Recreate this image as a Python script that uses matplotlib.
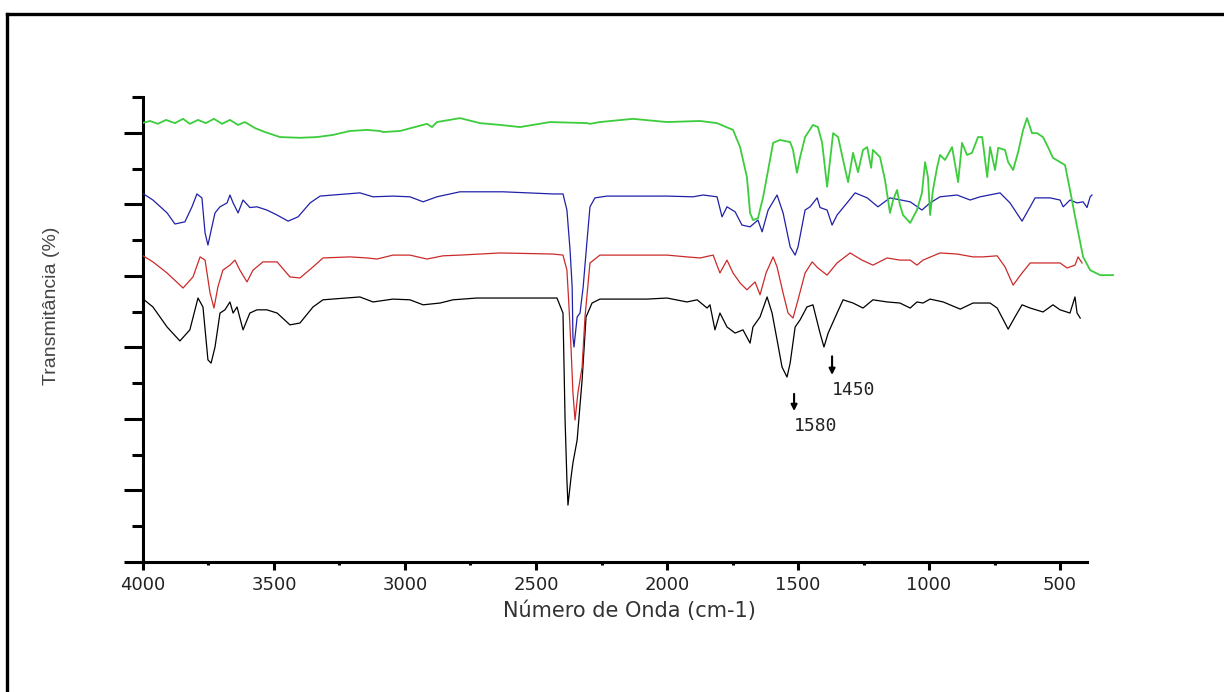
import numpy as np
import matplotlib
matplotlib.use('Agg')
import matplotlib.pyplot as plt
from matplotlib.lines import Line2D
from matplotlib.ticker import MultipleLocator

# FTIR spectra: wavenumber (cm-1) and transmittance (arbitrary %, stacked)
wn_green = [4004, 3973, 3943, 3912, 3878, 3847, 3821, 3790, 3760, 3729, 3698, 3668, 3637, 3611,
            3572, 3534, 3477, 3401, 3336, 3275, 3210, 3145, 3095, 3084, 3019, 2916, 2897, 2878,
            2790, 2714, 2637, 2561, 2446, 2305, 2294, 2256, 2130, 2000, 1874, 1809, 1748, 1721,
            1695, 1683, 1672, 1653, 1633, 1607, 1595, 1569, 1530, 1519, 1504, 1492, 1473, 1443,
            1424, 1408, 1389, 1366, 1347, 1328, 1309, 1290, 1271, 1252, 1236, 1221, 1214, 1187,
            1168, 1149, 1137, 1122, 1111, 1099, 1072, 1046, 1027, 1015, 1004, 996, 985, 969,
            958, 939, 912, 889, 874, 855, 836, 813, 797, 778, 767, 748, 736, 710, 698, 679,
            660, 641, 626, 607, 588, 565, 546, 527, 500, 481, 462, 435, 412, 385, 347, 298]
t_green = [122.7, 123.3, 122.5, 123.6, 122.7, 123.9, 122.5, 123.6, 122.7, 123.9, 122.5, 123.6, 122.2, 123.0,
           121.3, 120.2, 118.8, 118.6, 118.8, 119.4, 120.5, 120.8, 120.5, 120.2, 120.5, 122.5, 121.6, 123.0,
           124.1, 122.7, 122.2, 121.6, 123.0, 122.7, 122.5, 123.0, 123.9, 123.0, 123.3, 122.7, 120.8, 116.0,
           107.6, 97.6, 95.6, 96.1, 102.1, 112.4, 117.2, 118.0, 117.4, 115.2, 108.8, 113.2, 118.8, 122.2,
           121.6, 117.2, 104.9, 119.9, 118.8, 112.4, 106.2, 114.4, 109.0, 115.2, 116.0, 110.2, 115.2, 113.2,
           106.8, 97.6, 101.2, 104.0, 99.8, 97.0, 94.8, 98.4, 103.2, 111.8, 107.6, 97.0, 104.0, 110.4,
           113.8, 112.4, 116.0, 106.2, 117.2, 113.8, 114.4, 118.8, 118.8, 107.6, 116.0, 109.6, 115.8, 115.2, 111.8, 109.6,
           114.6, 120.8, 124.1, 119.9, 119.9, 118.8, 116.0, 113.0, 111.8, 111.0, 104.0, 93.7, 85.3, 81.6, 80.2, 80.2]

wn_blue = [4004, 3962, 3908, 3878, 3840, 3813, 3794, 3775, 3763, 3752, 3737, 3725, 3706, 3679,
           3668, 3656, 3637, 3618, 3592, 3565, 3527, 3488, 3446, 3408, 3362, 3324, 3275, 3172,
           3122, 3046, 2981, 2931, 2878, 2790, 2626, 2435, 2397, 2382, 2370, 2362, 2359, 2355,
           2343, 2332, 2320, 2305, 2294, 2275, 2229, 2000, 1901, 1862, 1809, 1790, 1771, 1740,
           1714, 1683, 1653, 1637, 1614, 1580, 1557, 1530, 1511, 1500, 1473, 1454, 1427, 1416,
           1389, 1370, 1351, 1313, 1282, 1236, 1195, 1149, 1072, 1027, 996, 958, 893, 843,
           805, 729, 691, 645, 614, 595, 538, 500, 488, 462, 435, 412, 397, 385, 378]
t_blue = [103.2, 101.2, 97.6, 94.5, 95.1, 99.3, 102.9, 101.8, 92.0, 88.6, 93.7, 97.6, 99.3, 100.4,
          102.6, 100.4, 97.6, 101.2, 99.1, 99.3, 98.4, 97.0, 95.3, 96.5, 100.4, 102.3, 102.6, 103.2,
          102.1, 102.3, 102.1, 100.7, 102.1, 103.5, 103.5, 102.9, 102.9, 98.4, 87.2, 76.9, 62.9, 60.1,
          68.5, 69.6, 76.9, 90.0, 99.3, 101.8, 102.3, 102.3, 102.1, 102.6, 102.1, 96.5, 99.3, 97.9,
          94.2, 93.7, 95.6, 92.3, 98.4, 102.6, 97.6, 88.1, 85.8, 88.1, 98.4, 99.3, 101.8, 99.1,
          98.4, 94.2, 97.0, 100.4, 103.2, 101.8, 99.3, 101.8, 100.7, 98.4, 100.4, 102.1, 102.6, 101.2,
          102.1, 103.2, 100.4, 95.3, 99.3, 101.8, 101.8, 101.2, 99.3, 101.2, 100.4, 100.7, 99.1, 102.1, 102.6]

wn_red = [4004, 3962, 3908, 3847, 3809, 3782, 3763, 3744, 3729, 3714, 3695, 3668, 3649, 3630,
          3603, 3580, 3542, 3488, 3439, 3401, 3351, 3313, 3210, 3145, 3107, 3046, 2981, 2916,
          2855, 2790, 2637, 2435, 2397, 2382, 2374, 2366, 2359, 2351, 2340, 2324, 2313, 2294,
          2256, 2000, 1924, 1874, 1824, 1798, 1771, 1748, 1721, 1695, 1664, 1645, 1622, 1595,
          1580, 1557, 1538, 1519, 1500, 1473, 1446, 1424, 1389, 1351, 1301, 1256, 1214, 1160,
          1111, 1072, 1046, 1023, 958, 893, 832, 794, 740, 710, 679, 645, 614, 549, 500, 473,
          443, 431, 416]
t_red = [85.8, 83.9, 80.8, 76.6, 79.7, 85.3, 84.4, 75.2, 71.0, 76.9, 81.6, 83.0, 84.4, 81.6,
         78.3, 81.6, 83.9, 83.9, 79.7, 79.4, 82.5, 85.0, 85.3, 85.0, 84.7, 85.8, 85.8, 84.7,
         85.6, 85.8, 86.4, 86.1, 85.8, 81.6, 71.3, 59.3, 47.3, 39.7, 47.3, 54.5, 68.5, 83.6,
         85.8, 85.8, 85.3, 85.0, 85.8, 80.8, 84.4, 80.8, 78.0, 76.1, 78.3, 74.7, 80.8, 85.3,
         82.5, 75.2, 69.6, 68.2, 73.3, 80.8, 83.9, 82.2, 80.2, 83.6, 86.4, 84.4, 83.0, 85.0,
         84.4, 84.4, 83.0, 84.4, 86.4, 86.1, 85.3, 85.3, 85.6, 82.5, 77.4, 80.8, 83.6, 83.6, 83.6, 82.2,
         83.0, 85.3, 83.6]

wn_black = [4004, 3962, 3908, 3859, 3821, 3790, 3771, 3752, 3740, 3725, 3706, 3687, 3668, 3656,
            3641, 3618, 3592, 3565, 3527, 3488, 3439, 3401, 3351, 3313, 3172, 3122, 3046, 2981,
            2931, 2866, 2817, 2725, 2420, 2397, 2389, 2382, 2378, 2366, 2359, 2343, 2324, 2309,
            2286, 2256, 2076, 2000, 1924, 1885, 1847, 1836, 1817, 1798, 1771, 1740, 1710, 1683,
            1672, 1645, 1618, 1599, 1580, 1561, 1542, 1530, 1511, 1492, 1466, 1443, 1416, 1401,
            1385, 1351, 1328, 1290, 1252, 1214, 1160, 1111, 1072, 1046, 1023, 996, 946, 881,
            832, 767, 740, 710, 698, 672, 645, 614, 565, 527, 500, 462, 443, 435, 423]
t_black = [73.8, 71.3, 65.7, 61.8, 64.9, 73.8, 71.3, 56.5, 55.6, 60.1, 69.6, 70.5, 72.7, 69.6,
           71.3, 64.9, 69.6, 70.5, 70.5, 69.6, 66.3, 66.8, 71.3, 73.3, 74.1, 72.7, 73.5, 73.3,
           71.9, 72.4, 73.3, 73.8, 73.8, 69.6, 39.7, 22.9, 15.9, 23.8, 27.7, 34.1, 50.9, 68.5,
           72.4, 73.5, 73.5, 73.8, 72.7, 73.3, 71.0, 71.9, 64.9, 69.6, 65.7, 64.0, 64.9, 61.2,
           65.7, 68.5, 74.1, 69.6, 62.1, 54.5, 51.7, 55.6, 65.7, 67.7, 71.3, 71.9, 64.0, 60.1,
           64.0, 69.6, 73.3, 72.4, 71.0, 73.3, 72.7, 72.4, 71.0, 72.7, 72.4, 73.5, 72.7, 70.7,
           72.4, 72.4, 71.0, 66.8, 65.1, 68.5, 71.9, 71.0, 69.9, 71.9, 70.5, 69.6, 74.1, 69.6, 68.2]

# marked bands (label, arrow position in cm-1, arrow top / tip, label height)
peak_labels = ['1450', '1580']
peak_wn = [1370, 1515]
arrow_top = [57.5, 47.0]
arrow_tip = [52.3, 42.2]
label_y = [48.1, 38.0]

fig = plt.figure(figsize=(12.24, 6.92), dpi=100)
fig.patch.set_facecolor('white')
ax = fig.add_axes([0.1168, 0.1879, 0.7942, 0.6719])

ax.plot(wn_black, t_black, color='black', lw=0.9, zorder=2)
ax.plot(wn_red, t_red, color='#cc2a2a', lw=0.9, zorder=3)
ax.plot(wn_blue, t_blue, color='#2020a8', lw=0.9, zorder=4)
ax.plot(wn_green, t_green, color='#3ccc3c', lw=1.3, zorder=5)

ax.set_xlim(4000, 290)
ax.set_ylim(0, 130)

for s in ['top', 'right']:
    ax.spines[s].set_visible(False)
for s in ['left', 'bottom']:
    ax.spines[s].set_linewidth(2.2)
ax.spines['bottom'].set_bounds(4000, 397)
ax.spines['left'].set_bounds(0, 130)

ax.xaxis.set_major_locator(MultipleLocator(500))
ax.xaxis.set_minor_locator(MultipleLocator(250))
ax.yaxis.set_major_locator(MultipleLocator(20))
ax.yaxis.set_minor_locator(MultipleLocator(10))
ax.tick_params(axis='x', which='major', length=6, width=2.2, pad=4,
               labelsize=13, labelcolor='#222222')
ax.tick_params(axis='x', which='minor', length=2.5, width=2.2)
ax.tick_params(axis='y', which='major', length=13.5, width=2.2, labelleft=False)
ax.tick_params(axis='y', which='minor', length=8, width=2.2)
ax.set_xticks([4000, 3500, 3000, 2500, 2000, 1500, 1000, 500])

ax.set_xlabel('Número de Onda (cm-1)', fontsize=15, color='#333333', labelpad=5)
ax.set_ylabel('Transmitância (%)', fontsize=14, color='#444444', family='Liberation Sans')
ax.yaxis.set_label_coords(-0.085, 0.55)

for lab, x, y0, y1, yl in zip(peak_labels, peak_wn, arrow_top, arrow_tip, label_y):
    ax.annotate('', xy=(x, y1), xytext=(x, y0),
                arrowprops=dict(arrowstyle='-|>', color='black', lw=1.5, mutation_scale=9,
                                shrinkA=0, shrinkB=0))
    ax.text(x, yl, lab, fontsize=13, family='DejaVu Sans Mono', ha='left', va='center',
            color='#222222')

# frame lines of the original figure (top and left only)
fig.add_artist(Line2D([0.0057, 1.0], [0.9798, 0.9798], color='black', lw=2.4,
                      transform=fig.transFigure))
fig.add_artist(Line2D([0.0057, 0.0057], [0.0, 0.9798], color='black', lw=2.4,
                      transform=fig.transFigure))

fig.savefig('out.png', dpi=100)
